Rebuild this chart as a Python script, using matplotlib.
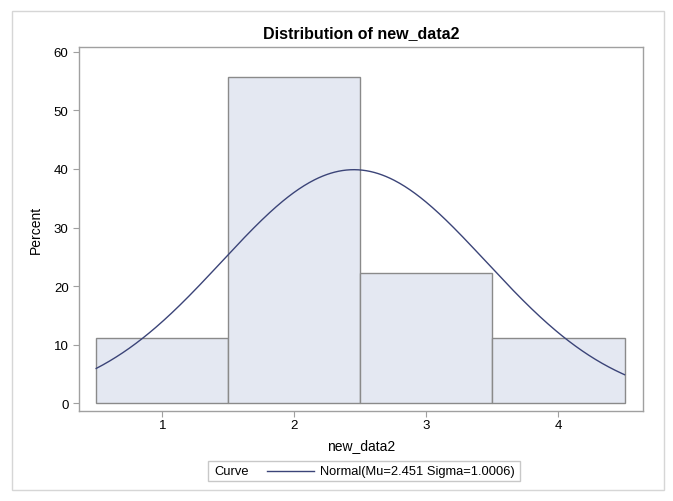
import numpy as np
import matplotlib
matplotlib.use("Agg")
import matplotlib.pyplot as plt
from matplotlib.patches import Rectangle
from matplotlib.lines import Line2D

plt.rcParams['font.family'] = ['Liberation Sans', 'DejaVu Sans']

bin_centers = [1, 2, 3, 4]
percents = [11.1, 55.6, 22.2, 11.1]
mu = 2.451
sigma = 1.0006
bin_width = 1.0
x_ticks = [1, 2, 3, 4]
y_ticks = [0, 10, 20, 30, 40, 50, 60]
legend_title = 'Curve'
legend_label = 'Normal(Mu=2.451 Sigma=1.0006)'

W, H = 673, 502
curve_color = '#3b4478'

fig = plt.figure(figsize=(W/100, H/100), dpi=100)

def fx(px):
    return px / W

def fy(py):
    return 1 - py / H

# outer border
fig.patches.append(Rectangle((fx(12), fy(491)), fx(664) - fx(12), fy(12) - fy(491),
                             transform=fig.transFigure, fill=False,
                             edgecolor='#d6d6d6', linewidth=1.0))

ax = fig.add_axes([fx(79), fy(412), (643 - 79) / W, (412 - 48) / H])
ax.bar(bin_centers, percents, width=bin_width, color='#e4e8f2',
       edgecolor='#8a8a8a', linewidth=1.0, zorder=2)

xs = np.linspace(bin_centers[0] - bin_width/2, bin_centers[-1] + bin_width/2, 400)
ys = 100 * bin_width * np.exp(-0.5 * ((xs - mu) / sigma) ** 2) / (sigma * np.sqrt(2 * np.pi))
ax.plot(xs, ys, color=curve_color, linewidth=1.0, zorder=3)

ax.set_xlim(0.37, 4.64)
ax.set_ylim(-1.3, 60.8)
ax.set_xticks(x_ticks)
ax.set_yticks(y_ticks)
for s in ax.spines.values():
    s.set_color('#a0a0a0')
    s.set_linewidth(1.0)
ax.tick_params(colors='#a0a0a0', labelcolor='black', labelsize=9.5, length=4)
ax.tick_params(axis='x', pad=2)
ax.set_xlabel('new_data2', fontsize=10, labelpad=5)
ax.set_ylabel('Percent', fontsize=10, labelpad=8)
ax.set_title('Distribution of new_data2', fontsize=11.5, fontweight='bold', pad=7)

# legend (drawn in figure coordinates)
fig.patches.append(Rectangle((fx(208), fy(482)), fx(520) - fx(208), fy(462) - fy(482),
                             transform=fig.transFigure, fill=False,
                             edgecolor='#c8c8c8', linewidth=1.0))
fig.text(fx(214), fy(472), legend_title, fontsize=9.3, va='center', ha='left')
fig.lines.append(Line2D([fx(267), fx(314)], [fy(472), fy(472)],
                        transform=fig.transFigure, color=curve_color, linewidth=1.0))
fig.text(fx(320), fy(472), legend_label, fontsize=9.3, va='center', ha='left')

fig.savefig('out.png', dpi=100)
